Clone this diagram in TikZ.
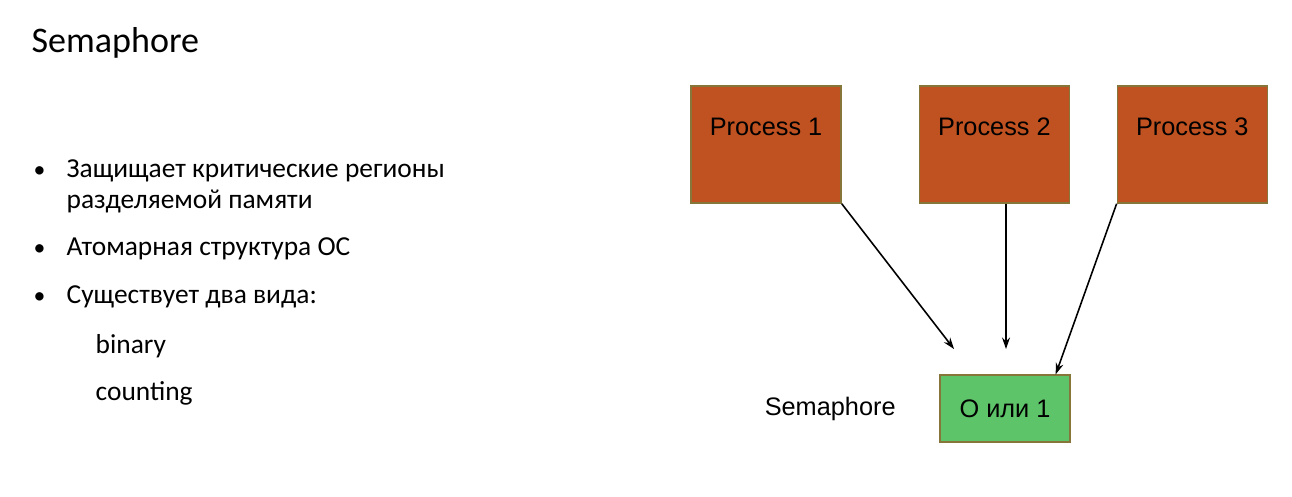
\documentclass[tikz,border=0pt]{standalone}
\usepackage{fontspec}
\setmainfont{Carlito}
\newfontfamily\diagfont{Liberation Sans}
\usetikzlibrary{positioning,arrows.meta}

\definecolor{procfill}{RGB}{192,81,33}
\definecolor{boxline}{RGB}{135,118,58}
\definecolor{semfill}{RGB}{93,196,106}

\begin{document}
\begin{tikzpicture}[>={Stealth[length=6.5pt,width=4.5pt]},thick,
  txt/.style={inner sep=0pt,anchor=base west,font=\fontsize{15.6}{17.6}\selectfont},
  dot/.style={inner sep=0pt,anchor=base west,font=\fontsize{13.5}{17.6}\selectfont},
  proc node/.style={rectangle,draw=boxline,line width=0.8pt,fill=procfill,inner sep=0pt,
    minimum width=3cm,minimum height=2.34cm},
  sem node/.style={rectangle,draw=boxline,line width=0.8pt,fill=semfill,inner sep=0pt,
    minimum width=2.6cm,minimum height=1.34cm,font=\diagfont\fontsize{14.4}{17}\selectfont}]

  \useasboundingbox (0,0) rectangle (25.84,-9.92);

  % left column
  \node[txt,font=\fontsize{20.5}{24}\selectfont] (title) at (0.62,-1.04) {Semaphore};

  \node[dot] (b1) at (0.66,-3.54) {•};
  \node[txt,align=left] (t1) at (1.32,-4.16) {Защищает критические регионы\\разделяемой памяти};
  \node[dot] (b2) at (0.66,-5.10) {•};
  \node[txt] (t2) at (1.32,-5.10) {Атомарная структура ОС};
  \node[dot] (b3) at (0.66,-6.06) {•};
  \node[txt] (t3) at (1.32,-6.06) {Существует два вида:};
  \node[txt] (bin) at (1.90,-7.06) {binary};
  \node[txt] (cnt) at (1.90,-8.00) {counting};

  % processes and semaphore
  \node[proc node,label={[anchor=base,yshift=-1.0cm,font=\diagfont\fontsize{14.4}{17}\selectfont]north:Process 1}] (p1) at (15.32,-2.89) {};
  \node[proc node,label={[anchor=base,yshift=-1.0cm,font=\diagfont\fontsize{14.4}{17}\selectfont]north:Process 2}] (p2) [right=1.54cm of p1] {};
  \node[proc node,label={[anchor=base,yshift=-1.0cm,font=\diagfont\fontsize{14.4}{17}\selectfont]north:Process 3}] (p3) [right=0.93cm of p2] {};

  \node[sem node] (sem) at (20.1,-8.17) {О или 1};
  \node[inner sep=0pt,font=\diagfont\fontsize{14.4}{17}\selectfont] (semlbl) [left=0.86cm of sem] {Semaphore};

  \coordinate (e1) at (19.08,-6.98);
  \coordinate (e2) at (20.12,-6.98);

  \path[->,line width=0.9pt]
    (p1.south east) edge (e1)
    (e2 |- p2.south) edge (e2)
    (p3.south west) edge ([xshift=-0.3cm]sem.north east);
\end{tikzpicture}
\end{document}
